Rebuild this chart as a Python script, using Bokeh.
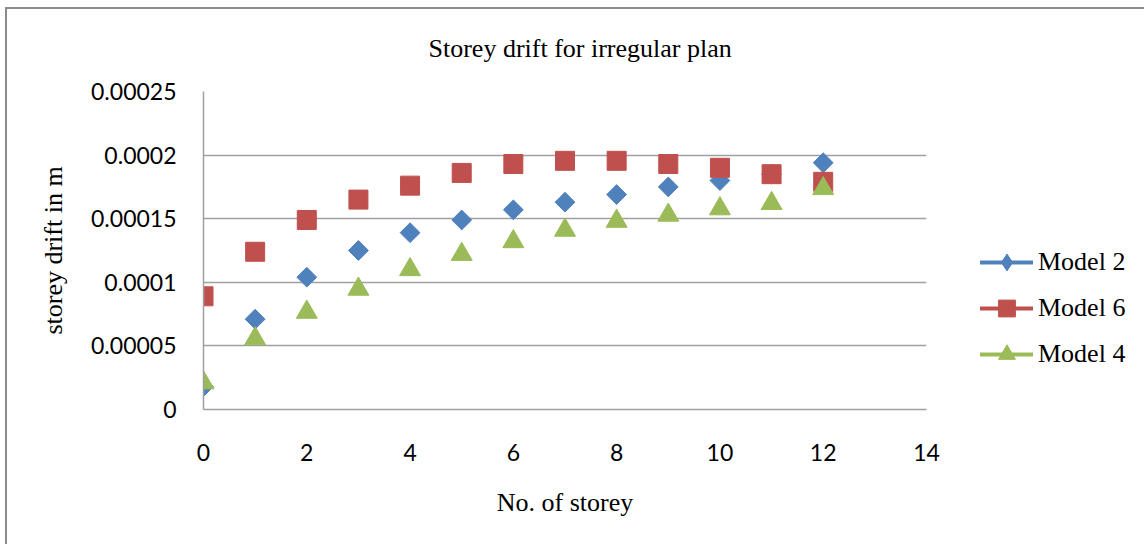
import numpy as np
from bokeh.plotting import figure
from bokeh.models import (Range1d, FixedTicker, CustomJSTickFormatter, Legend,
                          LegendItem, ColumnDataSource)
from bokeh.embed import file_html
from bokeh.resources import INLINE

# Storey numbers and drift (m) per model
storey = [0, 1, 2, 3, 4, 5, 6, 7, 8, 9, 10, 11, 12]
model_2 = [0.000018, 0.000071, 0.000104, 0.000125, 0.000139, 0.000149, 0.000157,
           0.000163, 0.000169, 0.000175, 0.000180, 0.000185, 0.000194]
model_6 = [0.000089, 0.000124, 0.000149, 0.000165, 0.000176, 0.000186, 0.000193,
           0.0001955, 0.0001955, 0.000193, 0.000190, 0.000185, 0.000179]
model_4 = [0.000021, 0.0000556, 0.0000765, 0.0000946, 0.000110, 0.000122, 0.000132,
           0.000141, 0.000148, 0.0001528, 0.0001578, 0.000162, 0.0001737]

x_ticks = [0, 2, 4, 6, 8, 10, 12, 14]
y_ticks = [0, 0.00005, 0.0001, 0.00015, 0.0002, 0.00025]

BLUE, RED, GREEN = "#4F81BD", "#C0504D", "#9BBB59"
SERIF = "Liberation Serif"
SANS = "Lato"

p = figure(frame_width=723, frame_height=318, output_backend="svg",
           toolbar_location=None,
           x_range=Range1d(0, 14), y_range=Range1d(0, 0.00025),
           min_border_left=203, min_border_right=0,
           min_border_top=91, min_border_bottom=135)

p.outline_line_color = None
p.border_fill_color = None
p.background_fill_color = "white"
p.styles = {
    "background": "linear-gradient(#8c8c8c,#8c8c8c) 5px 7px / 2px 100% no-repeat,"
                  " linear-gradient(#8c8c8c,#8c8c8c) 5px 7px / 100% 2px no-repeat, white"
}

p.title.text = "Storey drift for irregular plan"
p.title.text_font = SERIF
p.title.text_font_size = "26px"
p.title.text_font_style = "normal"
p.title.text_color = "black"
p.title.align = "left"
p.title.offset = 225
p.title.standoff = 58

p.xgrid.grid_line_color = None
p.ygrid.grid_line_color = "#a0a0a0"
p.ygrid.grid_line_width = 1.5

p.xaxis.ticker = FixedTicker(ticks=x_ticks)
p.yaxis.ticker = FixedTicker(ticks=y_ticks)
p.yaxis.formatter = CustomJSTickFormatter(
    code="return tick.toFixed(5).replace(/0+$/, '').replace(/\\.$/, '');")

for ax in (p.xaxis[0], p.yaxis[0]):
    ax.axis_line_color = "#a0a0a0"
    ax.axis_line_width = 1.5
    ax.major_tick_line_color = None
    ax.minor_tick_line_color = None
    ax.major_label_text_font = SANS
    ax.major_label_text_font_size = "23px"
    ax.major_label_text_color = "black"
    ax.axis_label_text_font = SERIF
    ax.axis_label_text_font_size = "26px"
    ax.axis_label_text_font_style = "normal"
    ax.axis_label_text_color = "black"

p.xaxis.axis_label = "No. of storey"
p.xaxis.major_label_standoff = 28
p.xaxis.axis_label_standoff = 24
p.yaxis.axis_label = "storey drift in m"
p.yaxis.major_label_standoff = 21
p.yaxis.axis_label_standoff = 20

r2 = p.scatter(storey, model_2, marker="square", size=14, angle=np.pi / 4,
               fill_color=BLUE, line_color=BLUE)
r6 = p.scatter(storey, model_6, marker="square", size=19,
               fill_color=RED, line_color=RED)
r4 = p.scatter(storey, model_4, marker="triangle", size=21,
               fill_color=GREEN, line_color=GREEN)

# legend swatches: lines and a diamond that sit outside the visible x range
swatch = ColumnDataSource(data=dict(x=[-3, -2], y=[0, 0]))
l2 = p.line("x", "y", source=swatch, line_color=BLUE, line_width=4, line_cap="round")
l6 = p.line("x", "y", source=swatch, line_color=RED, line_width=4, line_cap="round")
l4 = p.line("x", "y", source=swatch, line_color=GREEN, line_width=4, line_cap="round")
d2 = p.scatter("x", "y", source=swatch, marker="diamond", size=16,
               fill_color=BLUE, line_color=BLUE)

legend = Legend(items=[
    LegendItem(label="Model 2", renderers=[l2, d2]),
    LegendItem(label="Model 6", renderers=[l6, r6]),
    LegendItem(label="Model 4", renderers=[l4, r4]),
], location=(54, 34), orientation="vertical")
legend.glyph_width = 53
legend.glyph_height = 42
legend.label_height = 22
legend.spacing = 4
legend.label_standoff = 5
legend.padding = 0
legend.margin = 0
legend.border_line_color = None
legend.background_fill_alpha = 0
legend.label_text_font = SERIF
legend.label_text_font_size = "26px"
legend.label_text_color = "black"
p.add_layout(legend, "right")

open("out.html", "w").write(file_html(p, INLINE))
